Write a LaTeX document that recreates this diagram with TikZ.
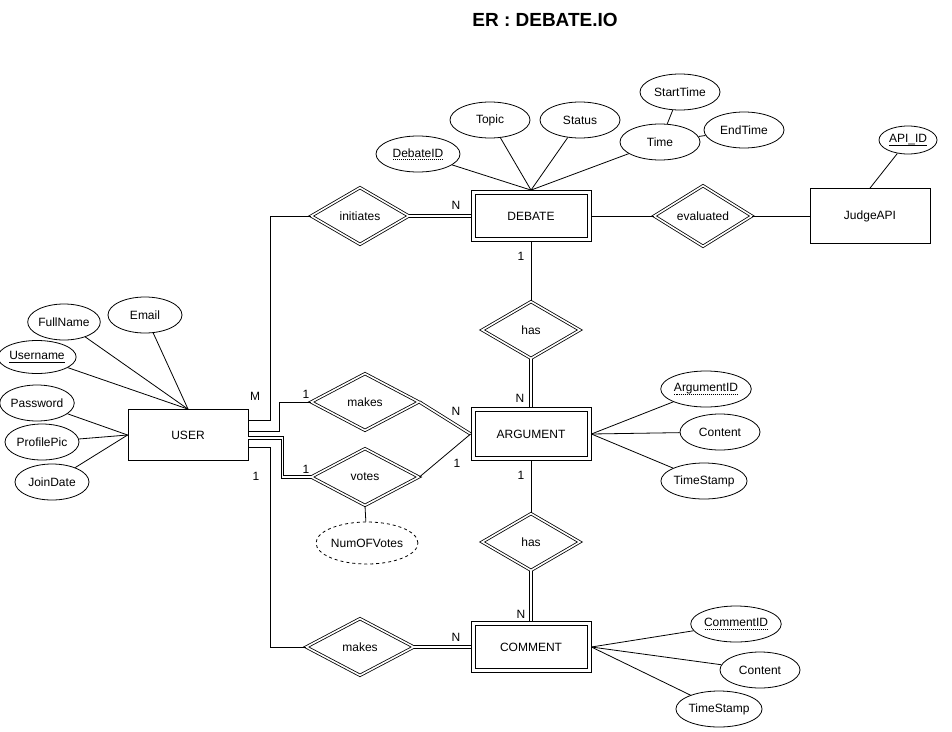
\documentclass[tikz,border=0pt]{standalone}
\usepackage{fontspec}
\setmainfont{Liberation Sans}
\usetikzlibrary{shapes.geometric}
\newcommand\dotkey[1]{\leavevmode\setbox0\hbox{#1}\rlap{\copy0}%
    \lower2.6pt\hbox to\wd0{\xleaders\hbox to 2pt{\hss\vrule width 1pt height 0.8pt\hss}\hfil}}
\newcommand\solidkey[1]{\leavevmode\setbox0\hbox{#1}\rlap{\copy0}%
    \lower2.6pt\hbox to\wd0{\vrule width\wd0 height 0.8pt}}

\begin{document}
\begin{tikzpicture}[x=1pt, y=-1pt, line width=0.8pt,
    every node/.style={font=\fontsize{12}{14}\selectfont},
    heading/.style={font=\fontsize{19}{22}\selectfont\bfseries},
    entity/.style={draw, rectangle, minimum width=120pt,
        minimum height=51pt, inner sep=0pt},
    rel/.style={draw, diamond, double, double distance=1.6pt,
        minimum width=#1, minimum height=57pt, inner sep=0pt},
    rel/.default=98pt,
    attr/.style={draw, ellipse, minimum width=#1, minimum height=36pt, inner sep=0pt},
    attr/.default=80pt,
    card/.style={inner sep=1pt},
    dbl/.style={double, double distance=1.6pt}]
    \fill[white] (0,0) rectangle (952,731);
    \useasboundingbox (0,0) rectangle (952,731);

    \node[heading] (heading) at (545,20) {ER : DEBATE.IO};

    % entities
    \node[entity] (debate) at (531,216) {DEBATE};
    \node[entity, minimum height=53pt] (argument) at (531,434) {ARGUMENT};
    \node[entity] (comment) at (531,647) {COMMENT};
    \node[entity] (user) at (188,435) {USER};
    \node[entity, minimum height=55pt] (judge) at (870,216) {JudgeAPI};
    \foreach \e in {debate,argument,comment}
        \draw ([shift={(4.5,4.5)}]\e.north west) rectangle ([shift={(-4.5,-4.5)}]\e.south east);

    % relationships
    \node[rel] (initiates) at (360,216) {initiates};
    \node[rel] (evaluated) at (703,216) {evaluated};
    \node[rel] (hasarg) at (531,330) {has};
    \node[rel] (hascom) at (531,542) {has};
    \node[rel=108pt] (makesarg) at (365,402) {makes};
    \node[rel=108pt] (votes) at (365,477) {votes};
    \node[rel=108pt] (makescom) at (360,647) {makes};

    % attributes
    \foreach \n/\t/\x/\y/\w in {
        debateid/{\dotkey{DebateID}}/418/154/84, topic/Topic/490/120/80,
        status/Status/580/120/80, time/Time/660/142/80,
        starttime/StartTime/680/92/80, endtime/EndTime/744/130/80,
        fullname/FullName/64/322/72, email/Email/145/315/74,
        password/Password/37/403/74, profilepic/ProfilePic/42/442/74,
        joindate/JoinDate/52/482/74,
        argid/{\dotkey{ArgumentID}}/706/389/84, argcontent/Content/720/432/80,
        argstamp/TimeStamp/704/481/82,
        comid/{\dotkey{CommentID}}/736/624/82, comcontent/Content/760/670/80,
        comstamp/TimeStamp/719/709/82} {
        \node[attr=\w pt] (\n) at (\x,\y) {\t};
    }
    \node[attr=70pt, minimum height=33pt] (username) at (37,357) {\solidkey{Username}};
    \node[attr=58pt, minimum height=28pt] (apiid) at (908,140) {\solidkey{API\_ID}};
    \node[attr=88pt, minimum height=42pt, dashed] (numvotes) at (367,543) {NumOFVotes};

    \foreach \a in {debateid,topic,status,time} \draw (debate.north) -- (\a);
    \draw (time) -- (starttime);
    \draw (time) -- (endtime);
    \draw (judge.north) -- (apiid);
    \foreach \a in {email,fullname,username} \draw (user.north) -- (\a);
    \foreach \a in {password,profilepic,joindate} \draw (user.west) -- (\a);
    \foreach \a in {argid,argcontent,argstamp} \draw (argument.east) -- (\a);
    \foreach \a in {comid,comcontent,comstamp} \draw (comment.east) -- (\a);
    \draw (votes.south) -- (numvotes);

    % relationship lines
    \draw[dbl] (initiates.east) -- (debate.west);
    \draw (debate.east) -- (evaluated.west);
    \draw (evaluated.east) -- (judge.west);
    \draw (debate.south) -- (hasarg.north);
    \draw[dbl] (hasarg.south) -- (argument.north);
    \draw (argument.south) -- (hascom.north);
    \draw[dbl] (hascom.south) -- (comment.north);
    \draw[dbl] (makesarg.east) -- (argument.west);
    \draw (votes.east) -- (argument.west);
    \draw[dbl] (makescom.east) -- (comment.west);
    \draw ([yshift=15pt]user.east) -- ++(22,0) |- (initiates.west);
    \draw ([yshift=4pt]user.east) -- ++(31,0) |- (makesarg.west);
    \draw[dbl] ([yshift=-3pt]user.east) -- ++(34,0) |- (votes.west);
    \draw ([yshift=-12pt]user.east) -- ++(22,0) |- (makescom.west);

    % cardinalities
    \foreach[count=\i] \t/\x/\y in {M/255/396, 1/306/394, 1/306/469, 1/256/476,
        N/456/205, 1/521/256, N/520/398, N/456/411, 1/457/463, 1/521/475,
        N/521/614, N/456/637} {
        \node[card] (c-\i) at (\x,\y) {\t};
    }
\end{tikzpicture}
\end{document}
